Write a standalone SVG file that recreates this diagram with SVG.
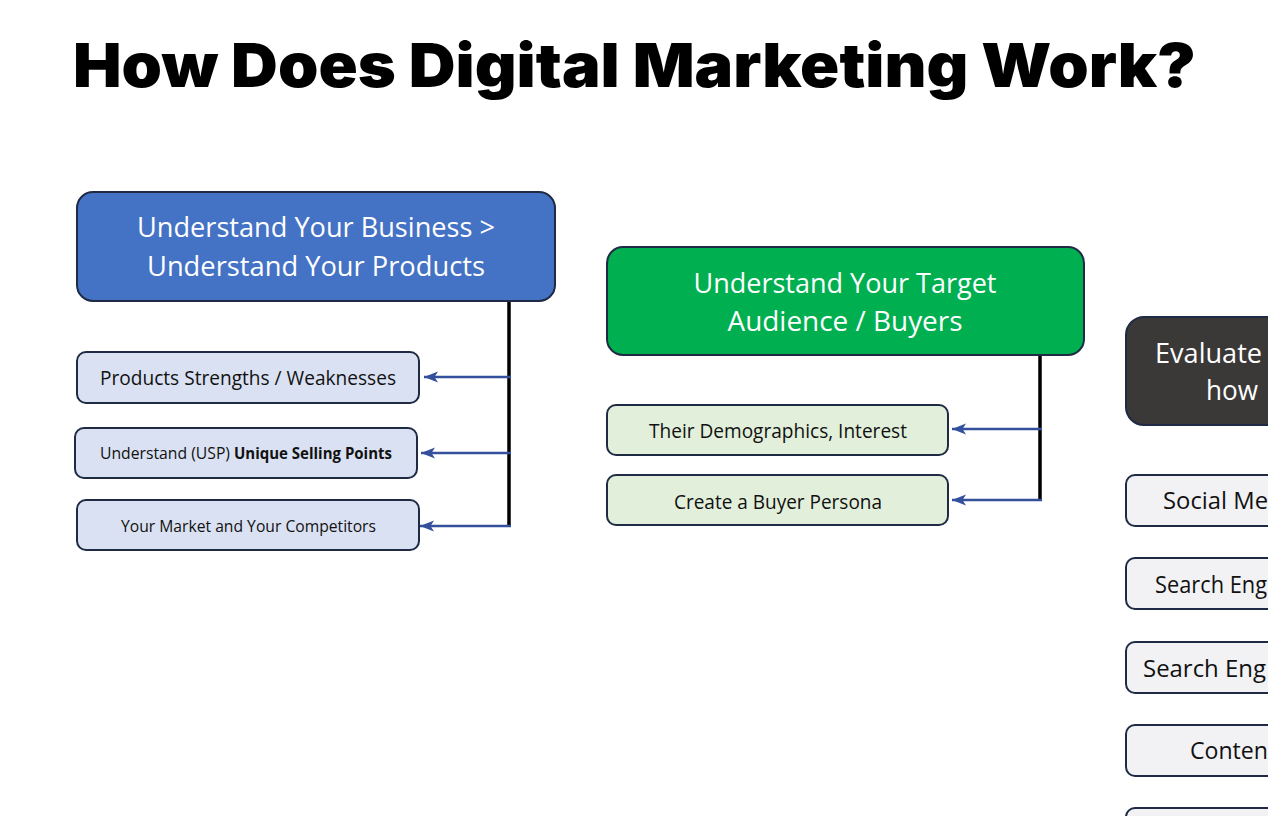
<svg xmlns="http://www.w3.org/2000/svg" width="1268" height="816" viewBox="0 0 1268 816">
<style>
.t{font-family:"Open Sans","Liberation Sans",sans-serif;}
.w{fill:#ffffff;}
.k{fill:#111111;}
.box{stroke:#1f2a44;stroke-width:2;}
.blue{fill:#4472c4;}
.green{fill:#00b050;}
.dark{fill:#3b3838;}
.lb{fill:#dae1f3;}
.lg{fill:#e2efda;}
.lw{fill:#f2f2f5;}
.trunk{stroke:#000000;stroke-width:3.5;fill:none;}
.arr{stroke:#34509c;stroke-width:2.5;fill:none;marker-end:url(#ah);}
</style>
<defs>
<marker id="ah" markerUnits="userSpaceOnUse" markerWidth="16" markerHeight="14" viewBox="0 0 16 14" refX="14" refY="7" orient="auto">
<path d="M0,1.5 L14,7 L0,12.5 L3.5,7 Z" fill="#34509c"/>
</marker>
</defs>
<rect width="1268" height="816" fill="#ffffff"/>
<text x="73" y="87" font-family="Inter,'Open Sans','Liberation Sans',sans-serif" font-weight="900" font-size="61" textLength="1123" lengthAdjust="spacingAndGlyphs" fill="#000000">How Does Digital Marketing Work?</text>

<g id="connectors">
<line class="trunk" x1="509" y1="302" x2="509" y2="527"/>
<line class="arr" x1="511" y1="377" x2="424" y2="377"/>
<line class="arr" x1="511" y1="453" x2="421" y2="453"/>
<line class="arr" x1="511" y1="526" x2="420" y2="526"/>
<line class="trunk" x1="1040" y1="356" x2="1040" y2="501"/>
<line class="arr" x1="1042" y1="429" x2="952" y2="429"/>
<line class="arr" x1="1042" y1="500" x2="952" y2="500"/>
</g>

<g id="business">
<rect class="box blue" x="77" y="192" width="478" height="109" rx="16"/>
<text class="t w" x="316" y="237" font-size="28" text-anchor="middle" textLength="358" lengthAdjust="spacingAndGlyphs">Understand Your Business &gt;</text>
<text class="t w" x="316" y="276" font-size="28" text-anchor="middle" textLength="338" lengthAdjust="spacingAndGlyphs">Understand Your Products</text>
</g>
<g id="strengths">
<rect class="box lb" x="77" y="352" width="342" height="51" rx="9"/>
<text class="t k" x="100" y="385" font-size="20" textLength="296" lengthAdjust="spacingAndGlyphs">Products Strengths / Weaknesses</text>
</g>
<g id="usp">
<rect class="box lb" x="75" y="428" width="342" height="50" rx="9"/>
<text class="t k" x="100" y="459" font-size="15.5"><tspan textLength="130" lengthAdjust="spacingAndGlyphs">Understand (USP)</tspan><tspan x="234" font-weight="bold" textLength="158" lengthAdjust="spacingAndGlyphs">Unique Selling Points</tspan></text>
</g>
<g id="market">
<rect class="box lb" x="77" y="500" width="342" height="50" rx="9"/>
<text class="t k" x="121" y="532" font-size="16.5" textLength="255" lengthAdjust="spacingAndGlyphs">Your Market and Your Competitors</text>
</g>

<g id="audience">
<rect class="box green" x="607" y="247" width="477" height="108" rx="16"/>
<text class="t w" x="845" y="293" font-size="28" text-anchor="middle" textLength="303" lengthAdjust="spacingAndGlyphs">Understand Your Target</text>
<text class="t w" x="845" y="331" font-size="28" text-anchor="middle" textLength="235" lengthAdjust="spacingAndGlyphs">Audience / Buyers</text>
</g>
<g id="demographics">
<rect class="box lg" x="607" y="405" width="341" height="50" rx="9"/>
<text class="t k" x="649" y="438" font-size="20" textLength="258" lengthAdjust="spacingAndGlyphs">Their Demographics, Interest</text>
</g>
<g id="persona">
<rect class="box lg" x="607" y="475" width="341" height="50" rx="9"/>
<text class="t k" x="674" y="509" font-size="20" textLength="208" lengthAdjust="spacingAndGlyphs">Create a Buyer Persona</text>
</g>

<g id="evaluate">
<rect class="box dark" x="1126" y="317" width="200" height="108" rx="18"/>
<text class="t w" x="1155" y="363" font-size="28" textLength="107" lengthAdjust="spacingAndGlyphs">Evaluate</text>
<text class="t w" x="1206" y="400" font-size="28" textLength="52" lengthAdjust="spacingAndGlyphs">how</text>
</g>
<g id="social">
<rect class="box lw" x="1126" y="475" width="200" height="51" rx="9"/>
<text class="t k" x="1163" y="509" font-size="23" textLength="105" lengthAdjust="spacingAndGlyphs">Social Me</text>
</g>
<g id="search1">
<rect class="box lw" x="1126" y="558" width="200" height="51" rx="9"/>
<text class="t k" x="1155" y="593" font-size="23" textLength="112" lengthAdjust="spacingAndGlyphs">Search Eng</text>
</g>
<g id="search2">
<rect class="box lw" x="1126" y="642" width="200" height="51" rx="9"/>
<text class="t k" x="1143" y="677" font-size="23" textLength="123" lengthAdjust="spacingAndGlyphs">Search Eng</text>
</g>
<g id="content">
<rect class="box lw" x="1126" y="725" width="200" height="51" rx="9"/>
<text class="t k" x="1190" y="759" font-size="23" textLength="78" lengthAdjust="spacingAndGlyphs">Conten</text>
</g>
<g id="next">
<rect class="box lw" x="1126" y="808" width="200" height="51" rx="9"/>
</g>
</svg>
